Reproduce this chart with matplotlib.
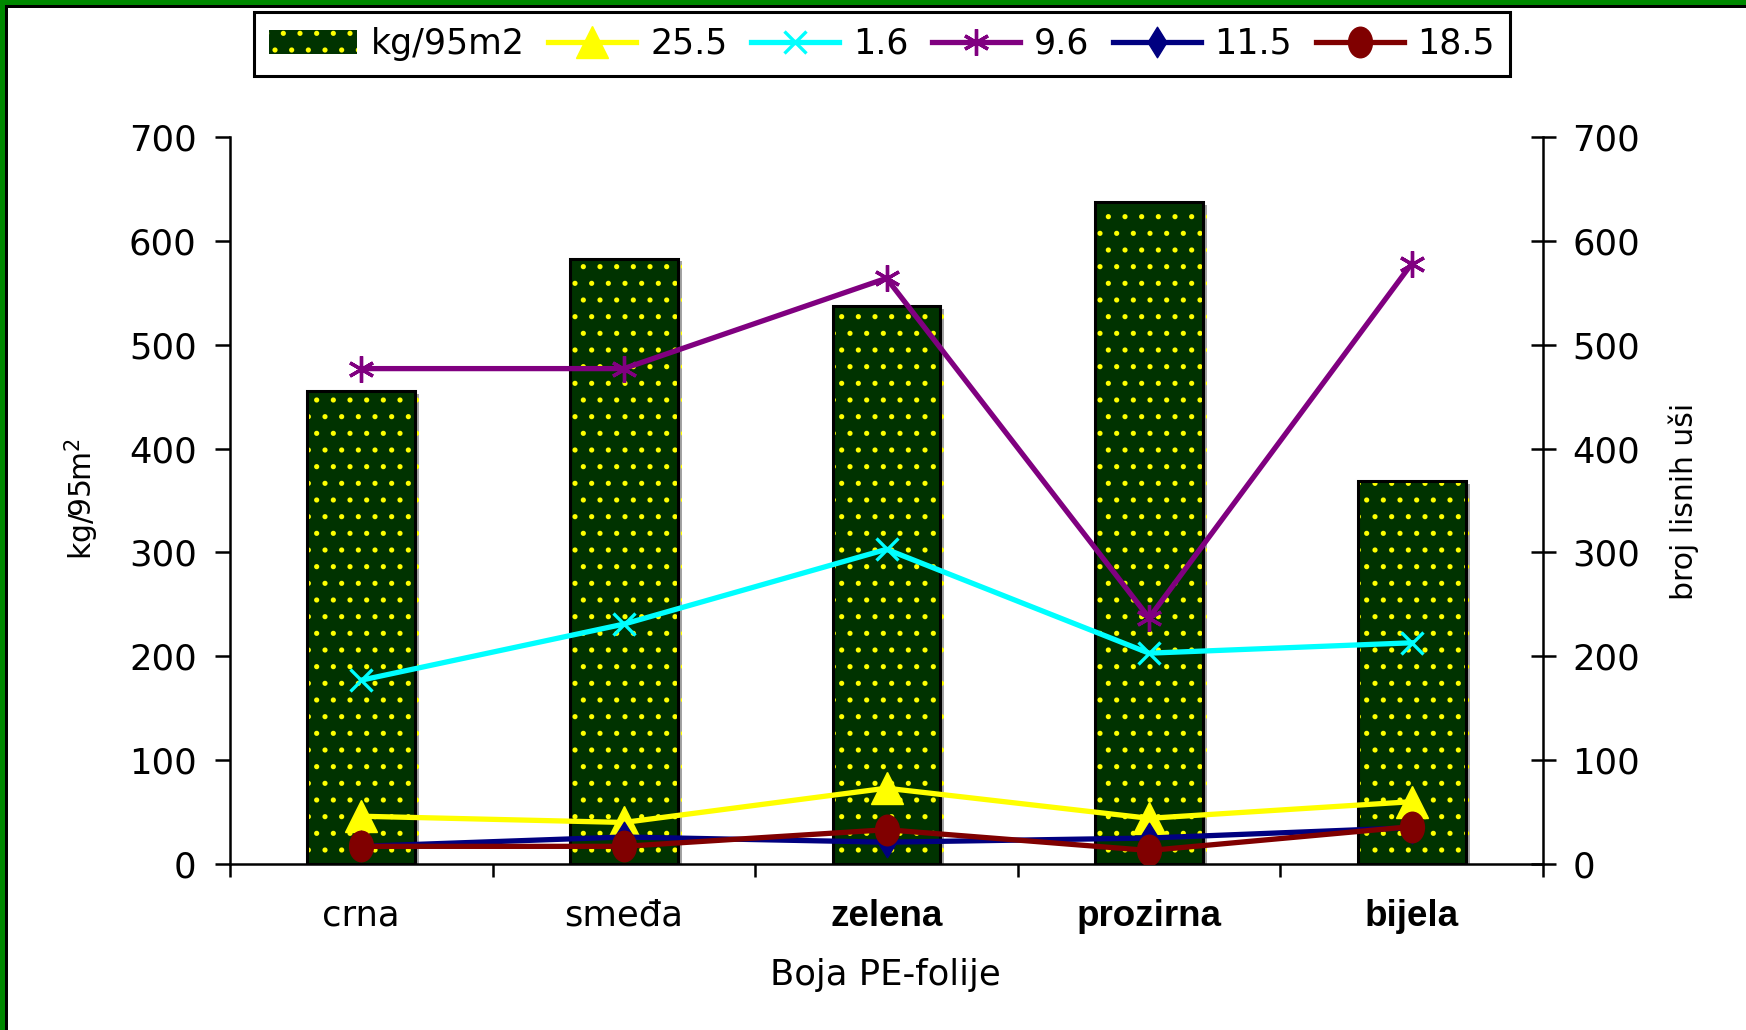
import matplotlib
matplotlib.use("Agg")
import matplotlib.pyplot as plt
import matplotlib.patheffects as pe
from matplotlib.patches import Rectangle
from matplotlib.path import Path
from matplotlib.transforms import Affine2D
import numpy as np

plt.rcParams['font.family'] = ['DejaVu Sans']
plt.rcParams['mathtext.fontset'] = 'dejavusans'
plt.rcParams['hatch.linewidth'] = 1.3

# ---- data ----
categories = ["crna", "smeđa", "zelena", "prozirna", "bijela"]
bold_categories = ["zelena", "prozirna", "bijela"]
yield_kg = [455, 583, 537, 637, 369]

series_labels = ["25.5", "1.6", "9.6", "11.5", "18.5"]
s_25_5 = [46, 40, 73, 44, 60]
s_1_6 = [177, 231, 303, 203, 213]
s_9_6 = [477, 477, 564, 237, 578]
s_11_5 = [17, 26, 21, 25, 35]
s_18_5 = [17, 17, 33, 13, 36]

y_ticks = [0, 100, 200, 300, 400, 500, 600, 700]

W, H = 1746, 1030
fig = plt.figure(figsize=(W / 100, H / 100), dpi=100)
fig.patch.set_facecolor('white')

# green / black frame along the top and left edges
for (x0, y0, w, h, c) in [
    (0, 0, 5, H, '#008800'), (0, H - 5, W, 5, '#008800'),
    (5, 0, 3, H - 5, '#000000'), (5, H - 8, W - 5, 3, '#000000'),
]:
    fig.add_artist(Rectangle((x0 / W, y0 / H), w / W, h / H,
                             transform=fig.transFigure, color=c, lw=0))

ax = fig.add_axes([230 / W, (H - 864) / H, (1543 - 230) / W, (864 - 137) / H])
x = np.arange(len(categories))

bar_w = 0.41
ax.bar(x, yield_kg, width=bar_w, color='#003300', edgecolor='#ffff00',
       hatch='.', linewidth=0, zorder=2,
       path_effects=[pe.SimplePatchShadow(offset=(3, -2), shadow_rgbFace='0.55', alpha=0.8),
                     pe.Normal()])
ax.bar(x, yield_kg, width=bar_w, facecolor='none', edgecolor='black',
       linewidth=2.2, zorder=3)

tick_fs = 25.5
ax.set_xlim(-0.5, len(categories) - 0.5)
ax.set_ylim(0, 700)
ax.set_yticks(y_ticks)
ax.tick_params(axis='y', direction='out', length=11, width=1.8, pad=13,
               labelsize=tick_fs)
ax.set_xticks(np.arange(-0.5, len(categories)), labels=[''] * (len(categories) + 1))
ax.tick_params(axis='x', which='major', direction='out', length=9, width=1.8)
ax.set_xticks(x, labels=categories, minor=True)
ax.tick_params(axis='x', which='minor', length=0, pad=25, labelsize=tick_fs)
for lbl in ax.get_xticklabels(minor=True):
    if lbl.get_text() in bold_categories:
        lbl.set_fontweight('bold')
        lbl.set_family(['Liberation Sans', 'DejaVu Sans'])
        lbl.set_fontsize(26.5)

for side in ['top', 'right']:
    ax.spines[side].set_visible(False)
ax.spines['left'].set_linewidth(1.8)
ax.spines['bottom'].set_linewidth(1.8)

ax2 = ax.twinx()
ax2.set_ylim(0, 700)
ax2.set_yticks(y_ticks)
ax2.tick_params(axis='y', direction='inout', length=18, width=1.8, pad=12,
                labelsize=tick_fs)
for side in ['top', 'left', 'bottom']:
    ax2.spines[side].set_visible(False)
ax2.spines['right'].set_linewidth(1.8)

ellipse = Path.unit_circle().transformed(Affine2D().scale(0.78, 1.0))
tall_diamond = Path([(0, 1), (0.62, 0), (0, -1), (-0.62, 0), (0, 1)],
                    [Path.MOVETO, Path.LINETO, Path.LINETO, Path.LINETO, Path.CLOSEPOLY])

styles = [
    (s_25_5, '#ffff00', '^', 23, 1.0),
    (s_1_6, '#00ffff', 'x', 16, 2.4),
    (s_9_6, '#800080', (6, 2, 0), 19, 2.4),
    (s_11_5, '#000080', tall_diamond, 22, 1.0),
    (s_18_5, '#800000', ellipse, 22, 1.0),
]
handles = [Rectangle((0, 0), 1, 1, facecolor='#003300', edgecolor='#ffff00',
                     hatch='.', linewidth=0)]
for (vals, col, mk, ms, mew), lab in zip(styles, series_labels):
    ln, = ax2.plot(x, vals, color=col, lw=3.8, marker=mk, markersize=ms,
                   markeredgewidth=mew, markerfacecolor=col, markeredgecolor=col,
                   label=lab, zorder=4)
    handles.append(ln)

labels = ["kg/95m2"] + series_labels
leg = fig.legend(handles, labels, loc='center', bbox_to_anchor=(882 / W, 1 - 44 / H),
                 ncol=6, frameon=True, fancybox=False, fontsize=25,
                 handlelength=2.53, handletextpad=0.4, columnspacing=0.68,
                 borderpad=0.42, framealpha=1)
leg.get_frame().set_edgecolor('black')
leg.get_frame().set_linewidth(2.2)

fig.text(82 / W, 1 - 499 / H, 'kg/95m$^{2}$', rotation=90, ha='center', va='center',
         fontsize=21.5)
fig.text(1684 / W, 1 - 501 / H, 'broj lisnih uši', rotation=90, ha='center',
         va='center', fontsize=21.5)
fig.text(885 / W, 1 - 975 / H, 'Boja PE-folije', ha='center', va='center', fontsize=25.5)

fig.savefig('out.png', dpi=100)
